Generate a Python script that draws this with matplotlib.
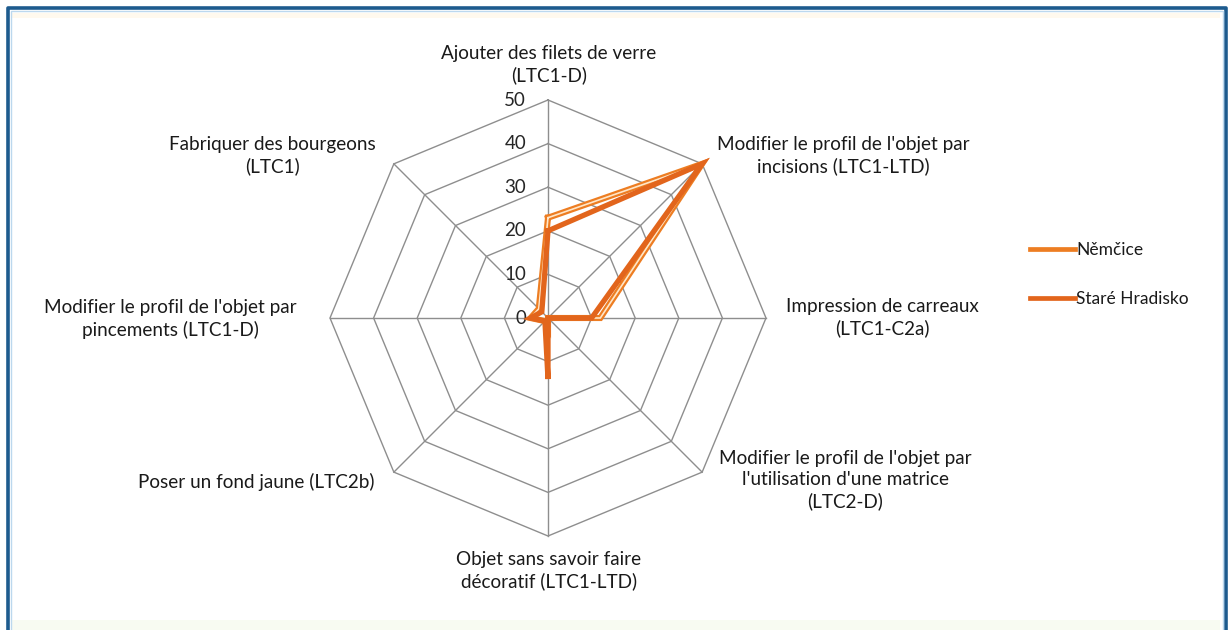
import numpy as np
import matplotlib
matplotlib.use("Agg")
import matplotlib.pyplot as plt
from matplotlib.patches import Rectangle
from matplotlib.lines import Line2D

categories = [
    "Ajouter des filets de verre\n(LTC1-D)",
    "Modifier le profil de l'objet par\nincisions (LTC1-LTD)",
    "Impression de carreaux\n(LTC1-C2a)",
    "Modifier le profil de l'objet par\nl'utilisation d'une matrice\n(LTC2-D)",
    "Objet sans savoir faire\ndécoratif (LTC1-LTD)",
    "Poser un fond jaune (LTC2b)",
    "Modifier le profil de l'objet par\npincements (LTC1-D)",
    "Fabriquer des bourgeons\n(LTC1)",
]
nemcice = [23, 50, 12, 0, 2, 1, 4, 3]
stare_hradisko = [20, 50, 10, 0, 14, 1, 4, 2]
ticks = [0, 10, 20, 30, 40, 50]
series_names = ["Němčice", "Staré Hradisko"]

W, H = 1230, 630
cx, cy = 548, 318
R = 218.0
rmax = 50.0
scale = R / rmax

fig = plt.figure(figsize=(W / 100, H / 100), dpi=100)
fig.patch.set_facecolor("white")
ax = fig.add_axes([0, 0, 1, 1])
ax.set_xlim(-cx / scale, (W - cx) / scale)
ax.set_ylim(-(H - cy) / scale, cy / scale)
ax.axis("off")

n = len(categories)
theta = np.arange(n) * 2 * np.pi / n


def xy(vals):
    v = np.asarray(vals, dtype=float)
    return v * np.sin(theta), v * np.cos(theta)


grid_color = "#8e8e8e"
for t in ticks[1:]:
    gx, gy = xy([t] * n)
    ax.plot(np.append(gx, gx[0]), np.append(gy, gy[0]), color=grid_color, lw=1.0, zorder=1)
for th in theta:
    ax.plot([0, rmax * np.sin(th)], [0, rmax * np.cos(th)], color=grid_color, lw=1.0, zorder=1)

for t in ticks:
    ax.text(-5.0, t, str(t), ha="right", va="center", fontsize=13.5,
            family="Lato", color="#262626", zorder=2)

# series
c1 = "#ED7D22"
c2 = "#E2651C"
x1, y1 = xy(nemcice)
x1 = np.append(x1, x1[0]); y1 = np.append(y1, y1[0])
ax.plot(x1, y1, color=c1, lw=4.4, solid_joinstyle="miter", zorder=3)
ax.plot(x1, y1, color="#FFE6C8", lw=1.2, solid_joinstyle="miter", zorder=4)
x2, y2 = xy(stare_hradisko)
x2 = np.append(x2, x2[0]); y2 = np.append(y2, y2[0])
ax.plot(x2, y2, color=c2, lw=3.8, solid_joinstyle="miter", zorder=5)

# category labels (pixel positions)
label_pos = [
    (549, 65),
    (843, 156),
    (882, 318),
    (845, 480),
    (549, 571),
    (256, 482),
    (170, 319),
    (272, 156),
]
for lab, (px, py) in zip(categories, label_pos):
    ax.text((px - cx) / scale, (cy - py) / scale, lab, ha="center", va="center",
            multialignment="center", fontsize=13.6, family="Lato",
            color="#1a1a1a", linespacing=1.28, zorder=2)

# legend
handles = [Line2D([], [], color=c1, lw=3.4), Line2D([], [], color=c2, lw=3.4)]
leg = ax.legend(handles, series_names, loc="upper left",
                bbox_to_anchor=(1014 / W, 1 - 226 / H), frameon=False,
                prop={"family": "Lato", "size": 12.5},
                handlelength=2.6, handletextpad=0.1, labelspacing=1.95)
for txt in leg.get_texts():
    txt.set_color("#1a1a1a")

# frame (left, top, right edges; bottom is cut off)
def fline(xs, ys, color, lw):
    fig.add_artist(Line2D([x / W for x in xs], [1 - y / H for y in ys],
                          transform=fig.transFigure, color=color, lw=lw, zorder=10))

fig.patches.append(Rectangle((11 / W, 1 - 18 / H), 1209 / W, 5 / H, transform=fig.transFigure,
                             facecolor="#fff9ee", edgecolor="none", zorder=9))
fig.patches.append(Rectangle((11 / W, 0), 1209 / W, 10 / H, transform=fig.transFigure,
                             facecolor="#f8fbf2", edgecolor="none", zorder=9))
fline([8, 8, 1226, 1226], [H, 8, 8, H], "#1d5b8e", 2.6)
fline([11, 11, 1223, 1223], [H, 11, 11, H], "#bcd8ee", 1.0)

fig.savefig("out.png", dpi=100, facecolor="white")
